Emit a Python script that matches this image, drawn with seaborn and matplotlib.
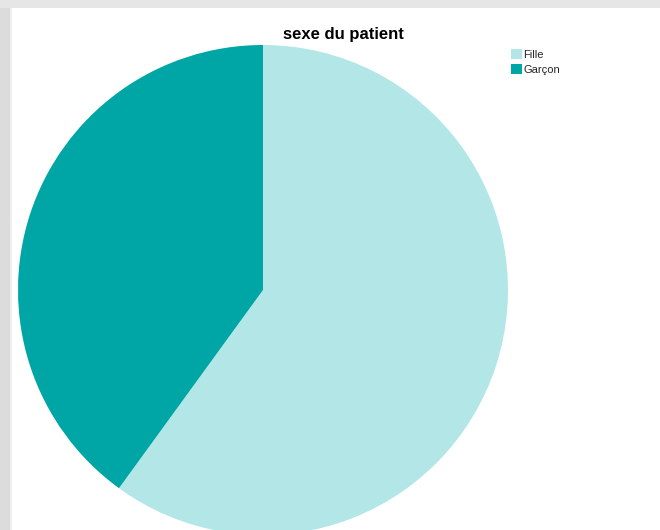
import matplotlib
matplotlib.use("Agg")
import matplotlib.pyplot as plt
from matplotlib.patches import Rectangle, Patch
import seaborn as sns

categories = ["Fille", "Garçon"]
values = [60, 40]
colors = ["#b3e6e7", "#00a6a5"]
title = "sexe du patient"

sns.set_style("white")
plt.rcParams["font.family"] = ["Liberation Sans", "DejaVu Sans"]

W, H = 660, 530
fig = plt.figure(figsize=(W / 100, H / 100), dpi=100)
fig.patch.set_facecolor("white")
# grey frame bands (top and left)
fig.patches.append(Rectangle((0, 1 - 8 / H), 1, 8 / H, transform=fig.transFigure,
                             facecolor="#e6e6e6", edgecolor="none", zorder=0))
fig.patches.append(Rectangle((0, 0), 10 / W, 1 - 8 / H, transform=fig.transFigure,
                             facecolor="#dcdcdc", edgecolor="none", zorder=0))
fig.patches.append(Rectangle((10 / W, 0), 1.5 / W, 1 - 8 / H, transform=fig.transFigure,
                             facecolor="#efefef", edgecolor="none", zorder=0))

ax = fig.add_axes([0, 0, 1, 1])
ax.set_xlim(0, W)
ax.set_ylim(0, H)
ax.set_aspect("equal")
ax.axis("off")
ax.patch.set_alpha(0)

wedges, _ = ax.pie(values, colors=colors, startangle=90, counterclock=False,
                   center=(263, H - 290), radius=245, frame=True,
                   wedgeprops=dict(linewidth=0))
ax.set_xlim(0, W)
ax.set_ylim(0, H)
ax.axis("off")

fig.text(343 / W, 1 - 35 / H, title, ha="center", va="center",
         fontsize=12, fontweight="bold", color="#000000")

handles = [Patch(facecolor=c, edgecolor="none") for c in colors]
fig.legend(handles, categories, loc="upper left", bbox_to_anchor=(503 / W, 1 - 41 / H),
           frameon=False, fontsize=8, handlelength=1.0, handleheight=1.0,
           handletextpad=0.15, labelspacing=0.4, borderpad=0.2)

fig.savefig("out.png", dpi=100)
